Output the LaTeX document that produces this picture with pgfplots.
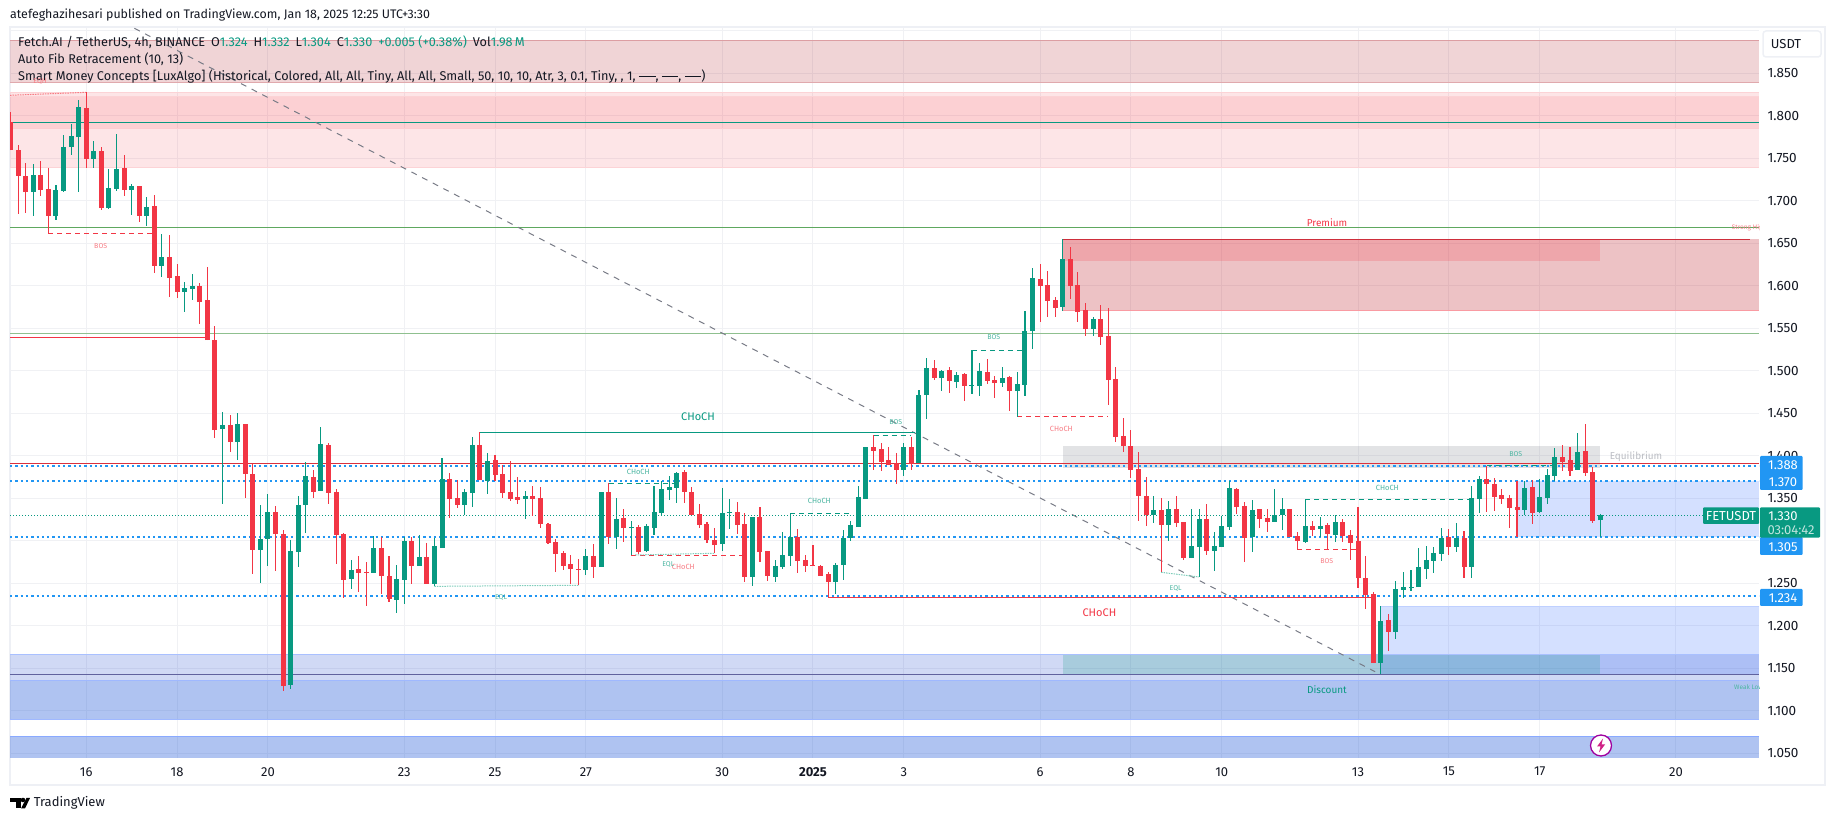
\documentclass[border=0pt]{standalone}
\usepackage{pgfplots}
\usepackage{pgfplotstable}
\pgfplotsset{compat=1.18}
\usepackage{fontspec}
\setmainfont{Fira Sans}

\definecolor{cup}{HTML}{089981}
\definecolor{cdn}{HTML}{F23645}
\definecolor{dkred}{HTML}{B22833}
\definecolor{premz}{RGB}{190,30,40}
\definecolor{tvblue}{HTML}{2962FF}
\definecolor{dotblue}{HTML}{2196F3}
\definecolor{tvgrey}{HTML}{787B86}
\definecolor{gridc}{HTML}{F0F1F4}
\definecolor{framec}{HTML}{EEF0F5}
\definecolor{ink}{HTML}{131722}
\definecolor{palez}{RGB}{20,65,205}
\definecolor{midz}{RGB}{26,84,215}
\definecolor{greenl}{HTML}{5EA85F}
\definecolor{greenp}{HTML}{8FC08F}
\definecolor{eqlc}{HTML}{7FCDBB}
\definecolor{fadeg}{HTML}{4DB6A2}
\definecolor{fader}{HTML}{F77C84}

% k = 4h candle number, 0 is Dec 16 00:00
\pgfplotstableread{
k o h l c
-7 1.7103 1.7433 1.6821 1.7303
-4 1.6821 1.7186 1.6774 1.7127
-3 1.7115 1.7774 1.7103 1.7633
-2 1.7633 1.7903 1.7539 1.7762
-1 1.7750 1.8186 1.7103 1.8103
1 1.7492 1.7703 1.7386 1.7586
3 1.6915 1.7374 1.6903 1.7151
4 1.7139 1.7786 1.7115 1.7374
6 1.7127 1.7197 1.6833 1.7174
8 1.6821 1.7045 1.6703 1.6927
10 1.6233 1.6609 1.6103 1.6339
13 1.5927 1.6045 1.5692 1.5974
14 1.5962 1.6139 1.5833 1.5998
18 1.4315 1.4515 1.3433 1.4362
20 1.4162 1.4503 1.3950 1.4374
23 1.2892 1.3421 1.2504 1.3021
24 1.3021 1.3551 1.2704 1.3339
27 1.1304 1.3008 1.1257 1.2880
28 1.2868 1.3527 1.2692 1.3421
29 1.3421 1.3927 1.3092 1.3763
31 1.3586 1.4339 1.3586 1.4139
35 1.2551 1.2774 1.2433 1.2657
38 1.2621 1.3057 1.2621 1.2915
41 1.2304 1.2715 1.2151 1.2551
42 1.2539 1.3045 1.2257 1.2998
44 1.2704 1.3068 1.2704 1.2810
46 1.2492 1.3033 1.2468 1.2939
47 1.2915 1.3974 1.2915 1.3727
50 1.3421 1.3610 1.3304 1.3574
51 1.3563 1.4221 1.3398 1.4127
53 1.3704 1.4033 1.3551 1.3939
58 1.3492 1.3586 1.3257 1.3527
66 1.2657 1.2904 1.2598 1.2821
68 1.2692 1.3574 1.2692 1.3574
70 1.3045 1.3503 1.2903 1.3256
72 1.3150 1.3233 1.2833 1.3162
74 1.2880 1.3198 1.2868 1.3174
75 1.3150 1.3645 1.3068 1.3339
76 1.3327 1.3703 1.3292 1.3609
77 1.3597 1.3762 1.3480 1.3633
78 1.3621 1.3809 1.3445 1.3797
84 1.2962 1.3621 1.2880 1.3327
85 1.3327 1.3492 1.3139 1.3339
88 1.2574 1.3280 1.2468 1.3280
91 1.2574 1.2774 1.2515 1.2703
92 1.2692 1.3103 1.2668 1.2833
93 1.2821 1.3323 1.2703 1.3045
99 1.2515 1.2739 1.2374 1.2715
100 1.2715 1.3127 1.2539 1.3033
101 1.3033 1.3233 1.2997 1.3186
102 1.3162 1.3645 1.3162 1.3515
103 1.3492 1.4103 1.3492 1.4103
108 1.3833 1.4150 1.3762 1.4103
110 1.3911 1.4774 1.3911 1.4715
111 1.4715 1.5150 1.4433 1.5033
113 1.4915 1.5009 1.4762 1.4997
115 1.4868 1.4985 1.4797 1.4950
117 1.4821 1.5244 1.4727 1.4833
118 1.4821 1.5091 1.4703 1.4997
121 1.4856 1.5044 1.4809 1.4915
123 1.4762 1.4985 1.4460 1.4844
124 1.4833 1.5703 1.4703 1.5468
125 1.5468 1.6209 1.5256 1.6091
129 1.5750 1.6546 1.5703 1.6315
133 1.5491 1.5633 1.5409 1.5609
141 1.3303 1.3527 1.3209 1.3362
143 1.3186 1.3468 1.3000 1.3374
146 1.2797 1.3374 1.2797 1.2939
147 1.2927 1.3374 1.2574 1.3256
149 1.2880 1.3103 1.2645 1.2939
150 1.2927 1.3292 1.2927 1.3174
151 1.3162 1.3703 1.3127 1.3621
154 1.3045 1.3480 1.2868 1.3362
157 1.3221 1.3609 1.3221 1.3303
158 1.3303 1.3503 1.3127 1.3374
161 1.2986 1.3492 1.2974 1.3174
163 1.3139 1.3280 1.3045 1.3174
165 1.3068 1.3303 1.2986 1.3221
171 1.1562 1.2233 1.1433 1.2056
173 1.1927 1.2527 1.1845 1.2433
174 1.2421 1.2633 1.2327 1.2456
175 1.2445 1.2656 1.2409 1.2456
176 1.2456 1.2911 1.2456 1.2692
177 1.2668 1.2939 1.2550 1.2774
178 1.2762 1.2927 1.2621 1.2856
179 1.2845 1.3150 1.2762 1.3033
181 1.2927 1.3209 1.2868 1.3033
183 1.2692 1.3645 1.2562 1.3503
184 1.3492 1.3763 1.3327 1.3727
190 1.3363 1.3704 1.3304 1.3622
192 1.3339 1.3727 1.3327 1.3516
193 1.3504 1.3845 1.3433 1.3775
194 1.3763 1.4092 1.3704 1.3986
197 1.3833 1.4269 1.3833 1.4045
200 1.3240 1.3320 1.3040 1.3300
}\upc

\pgfplotstableread{
k o h l c
-10 1.7926 1.8048 1.7597 1.7597
-9 1.7597 1.7656 1.6845 1.7292
-8 1.7292 1.7445 1.6853 1.7103
-6 1.7303 1.7468 1.7056 1.7127
-5 1.7139 1.7386 1.6617 1.6821
0 1.8092 1.8280 1.7386 1.7492
2 1.7586 1.7633 1.6892 1.6915
5 1.7386 1.7539 1.7056 1.7127
7 1.7174 1.7174 1.6750 1.6821
9 1.6939 1.7068 1.6150 1.6233
11 1.6339 1.6598 1.5868 1.6092
12 1.6115 1.6257 1.5857 1.5927
15 1.5998 1.6033 1.5551 1.5809
16 1.5833 1.6221 1.5362 1.5362
17 1.5362 1.5527 1.4209 1.4303
19 1.4362 1.4480 1.4044 1.4162
21 1.4374 1.4374 1.3503 1.3786
22 1.3786 1.3904 1.2610 1.2892
25 1.3339 1.3410 1.2645 1.3080
26 1.3080 1.3127 1.1233 1.1292
30 1.3751 1.3833 1.3504 1.3574
32 1.4127 1.4151 1.3433 1.3563
33 1.3574 1.3610 1.2727 1.3068
34 1.3080 1.3092 1.2327 1.2539
36 1.2668 1.2821 1.2398 1.2621
37 1.2633 1.2751 1.2233 1.2621
39 1.2915 1.3045 1.2374 1.2586
40 1.2586 1.2821 1.2280 1.2315
43 1.2998 1.3045 1.2492 1.2704
45 1.2810 1.2974 1.2492 1.2492
48 1.3727 1.3798 1.3268 1.3492
49 1.3504 1.3715 1.3386 1.3421
52 1.4127 1.4280 1.3715 1.3715
54 1.3951 1.4010 1.3704 1.3774
55 1.3786 1.3892 1.3504 1.3563
56 1.3574 1.3939 1.3468 1.3492
57 1.3515 1.3751 1.3433 1.3480
59 1.3527 1.3645 1.3292 1.3492
60 1.3504 1.3633 1.3151 1.3198
61 1.3198 1.3210 1.2962 1.2974
62 1.2986 1.3021 1.2633 1.2845
63 1.2857 1.2880 1.2657 1.2704
64 1.2727 1.2833 1.2492 1.2668
65 1.2668 1.2786 1.2480 1.2657
67 1.2821 1.2962 1.2562 1.2692
69 1.3574 1.3676 1.2962 1.3045
71 1.3268 1.3374 1.2986 1.3150
73 1.3162 1.3186 1.2845 1.2868
79 1.3809 1.3833 1.3445 1.3574
80 1.3574 1.3633 1.3303 1.3303
81 1.3315 1.3433 1.3150 1.3186
82 1.3198 1.3221 1.2974 1.3009
83 1.3009 1.3150 1.2856 1.2950
86 1.3339 1.3456 1.3080 1.3186
87 1.3198 1.3327 1.2515 1.2574
89 1.3280 1.3397 1.2750 1.2868
90 1.2880 1.2880 1.2527 1.2586
94 1.3045 1.3139 1.2621 1.2762
95 1.2774 1.2833 1.2633 1.2703
96 1.2715 1.2950 1.2703 1.2703
97 1.2703 1.2715 1.2586 1.2586
98 1.2609 1.2633 1.2339 1.2515
104 1.4103 1.4245 1.3833 1.4056
105 1.4080 1.4150 1.3821 1.3927
106 1.3950 1.4103 1.3892 1.3892
107 1.3915 1.4033 1.3668 1.3833
109 1.4103 1.4221 1.3833 1.3903
112 1.5033 1.5127 1.4891 1.4915
114 1.5009 1.5044 1.4738 1.4880
116 1.4962 1.4974 1.4644 1.4821
119 1.4985 1.5138 1.4844 1.4880
120 1.4891 1.4938 1.4680 1.4856
122 1.4927 1.4938 1.4527 1.4762
126 1.6080 1.6256 1.5574 1.5997
127 1.6009 1.6174 1.5633 1.5821
128 1.5833 1.5868 1.5633 1.5738
130 1.6315 1.6456 1.5844 1.5997
131 1.6009 1.6162 1.5574 1.5691
132 1.5715 1.5797 1.5409 1.5491
134 1.5609 1.5774 1.5303 1.5397
135 1.5409 1.5738 1.4597 1.4891
136 1.4903 1.5044 1.4162 1.4221
137 1.4233 1.4444 1.4044 1.4115
138 1.4115 1.4303 1.3738 1.3833
139 1.3845 1.4045 1.3233 1.3527
140 1.3527 1.3750 1.3174 1.3303
142 1.3362 1.3503 1.2633 1.3186
144 1.3374 1.3527 1.3162 1.3209
145 1.3221 1.3221 1.2774 1.2797
148 1.3256 1.3433 1.2833 1.2880
152 1.3609 1.3621 1.3315 1.3397
153 1.3409 1.3456 1.2750 1.3033
155 1.3374 1.3374 1.3150 1.3256
156 1.3268 1.3374 1.3103 1.3221
159 1.3374 1.3374 1.3045 1.3045
160 1.3056 1.3103 1.2899 1.2997
162 1.3174 1.3233 1.3056 1.3127
164 1.3186 1.3209 1.2903 1.3080
166 1.3221 1.3256 1.2986 1.3056
167 1.3068 1.3127 1.2774 1.2974
168 1.3000 1.3397 1.2445 1.2562
169 1.2562 1.2821 1.2197 1.2362
170 1.2374 1.2397 1.1562 1.1562
172 1.2068 1.2139 1.1703 1.1927
180 1.3045 1.3139 1.2833 1.2927
182 1.3033 1.3115 1.2562 1.2692
185 1.3727 1.3880 1.3339 1.3669
186 1.3669 1.3739 1.3351 1.3516
187 1.3539 1.3610 1.3433 1.3492
188 1.3504 1.3539 1.3151 1.3386
189 1.3398 1.3704 1.3045 1.3363
191 1.3633 1.3716 1.3198 1.3327
195 1.3986 1.4127 1.3822 1.3927
196 1.3951 1.4104 1.3763 1.3822
198 1.4057 1.4374 1.3763 1.3798
199 1.3810 1.3869 1.3210 1.3233
}\dnc

\def\xL{-10.07}
\def\xR{220.97}
% x1 x2 ytop ybottom colour opacity
\newcommand{\zone}[6]{\addplot[fill=#5,fill opacity=#6,draw=none] coordinates {(#1,#3)(#2,#3)(#2,#4)(#1,#4)} -- cycle;}
% style x1 x2 y
\newcommand{\hl}[4]{\addplot[#1] coordinates {(#2,#4)(#3,#4)};}
\tikzset{dsh/.style={line width=1pt,dash pattern=on 5pt off 4pt},
    bdot/.style={dotblue,line width=2pt,dash pattern=on 2.3pt off 3pt}}
\newcommand{\fs}[1]{\fontsize{#1}{#1}\selectfont}
\newcommand{\lab}[5]{\node[text=#4,inner sep=0pt,font=\fs{#3}] at (#1,#2) {#5};}
\newcommand{\sw}{\rule[0.22em]{1.3em}{0.07em}}

\begin{document}
\begin{tikzpicture}
\path[use as bounding box] (0,0) rectangle (1835pt,821pt);
\begin{scope}[x=1pt,y=-1pt,yshift=821pt]
\draw[framec,line width=2pt] (10,27.5) rectangle (1825,785);
\node[anchor=west,inner sep=0pt,text=ink,font=\fs{12.4}] at (10,14.7) {atefeghazihesari published on TradingView.com, Jan 18, 2025 12:25 UTC+3:30};
\end{scope}

\begin{axis}[
    at={(10pt,63.3pt)}, anchor=south west,
    scale only axis, width=1749pt, height=729.7pt,
    xmin=\xL, xmax=\xR, ymin=1.0448, ymax=1.9033,
    axis line style={draw=none},
    major tick length=0pt,
    no markers,
    grid=major,
    grid style={gridc,line width=1pt},
    xtick={0,12,24,42,54,66,84,96,108,126,138,150,168,180,192,210},
    xticklabels={16,18,20,23,25,27,30,\textbf{2025},3,6,8,10,13,15,17,20},
    ytick={1.05,1.10,1.15,1.20,1.25,1.30,1.35,1.40,1.45,1.50,1.55,1.60,1.65,1.70,1.75,1.80,1.85},
    extra y ticks={1.90}, extra y tick labels={},
    extra tick style={grid=major},
    yticklabel pos=right,
    yticklabel style={/pgf/number format/fixed,/pgf/number format/zerofill,/pgf/number format/precision=3,/pgf/number format/assume math mode=true,
        font=\fs{13.5},text=ink,anchor=west,xshift=5pt},
    xticklabel style={font=\fs{13},text=ink,yshift=-6pt},
]
% supply and demand zones
\zone{\xL}{\xR}{1.8887}{1.8393}{dkred}{0.2}
\hl{dkred!45,line width=1pt}{\xL}{\xR}{1.8887}
\hl{dkred!40,line width=1pt}{\xL}{\xR}{1.8393}
\zone{\xL}{\xR}{1.8276}{1.7389}{cdn}{0.13}
\zone{\xL}{\xR}{1.8229}{1.7852}{cdn}{0.12}
\hl{cdn!22,line width=1pt}{\xL}{\xR}{1.8276}
\hl{cdn!22,line width=1pt}{\xL}{\xR}{1.8229}
\hl{cdn!25,line width=1pt}{\xL}{\xR}{1.7852}
\hl{cdn!22,line width=1pt}{\xL}{\xR}{1.7389}

\zone{129}{\xR}{1.6546}{1.5707}{premz}{0.27}
\zone{129}{200}{1.6546}{1.6295}{cdn}{0.2}
\hl{cdn!85!black,line width=1.2pt}{129}{219.8}{1.6546}
\hl{cdn!50,line width=1pt}{129}{\xR}{1.5707}

\zone{129}{200}{1.4115}{1.3860}{tvgrey}{0.215}

\zone{189}{\xR}{1.3703}{1.3045}{tvblue}{0.2}
\zone{171}{\xR}{1.2229}{1.1433}{tvblue}{0.2}
\hl{tvblue!30,line width=1pt}{171}{\xR}{1.2229}

\zone{\xL}{\xR}{1.1664}{1.1362}{palez}{0.2}
\zone{\xL}{\xR}{1.1362}{1.0899}{midz}{0.35}
\zone{\xL}{\xR}{1.0699}{1.0448}{midz}{0.35}
\zone{129}{200}{1.1670}{1.1433}{cup}{0.2}
\hl{tvblue!40,line width=1pt}{\xL}{\xR}{1.1664}
\hl{tvblue!45,line width=1pt}{\xL}{\xR}{1.1362}
\hl{tvblue!45,line width=1.5pt}{\xL}{\xR}{1.0899}
\hl{tvblue!55,line width=1pt}{\xL}{\xR}{1.0699}
\hl{tvgrey!80!blue,line width=1pt}{\xL}{\xR}{1.1429}

% fib levels and long structure lines
\hl{greenl,line width=1pt}{\xL}{\xR}{1.6684}
\hl{greenp,line width=1pt}{\xL}{\xR}{1.5441}
\hl{cup,line width=1.1pt}{\xL}{\xR}{1.7919}
\hl{cdn,line width=1pt}{\xL}{16}{1.5393}
\hl{cdn!90!black,line width=1.1pt}{\xL}{\xR}{1.3911}

\addplot[tvgrey,line width=1pt,dash pattern=on 6pt off 6pt] coordinates {(6.37,1.9029)(170.25,1.1460)};

\hl{bdot}{\xL}{\xR}{1.3884}
\hl{bdot}{\xL}{\xR}{1.3703}
\hl{bdot}{\xL}{\xR}{1.3050}
\hl{bdot}{\xL}{\xR}{1.2345}
\hl{cup,line width=1pt,dash pattern=on 1pt off 2pt}{\xL}{213.5}{1.3299}

\hl{cup,line width=1.3pt}{52}{109.5}{1.4272}
\hl{cdn,line width=1.3pt}{98}{170}{1.2335}
\hl{cup,dsh}{69}{78.5}{1.3676}
\hl{cup,dsh}{93}{101}{1.3323}
\hl{cup,dsh}{104}{109}{1.4241}
\hl{cup,dsh}{117}{124}{1.5240}
\hl{cup,dsh}{161}{183}{1.3488}
\hl{cup,dsh}{185}{194}{1.3880}
\hl{cdn,dsh}{-5}{9}{1.6617}
\hl{cdn,dsh}{72}{87}{1.2829}
\hl{cdn,dsh}{123}{135}{1.4464}
\hl{cdn,dsh}{160}{168}{1.2899}

\addplot[fader,line width=1pt,dash pattern=on 1.5pt off 1pt] coordinates {(-10.07,1.8241)(0,1.8276)};
\addplot[eqlc,line width=1pt,dash pattern=on 1.5pt off 1pt] coordinates {(46,1.2464)(65,1.2476)};
\addplot[eqlc,line width=1pt,dash pattern=on 1.5pt off 1pt] coordinates {(72.5,1.2833)(83,1.2853)};
\addplot[eqlc,line width=1pt,dash pattern=on 1.5pt off 1pt] coordinates {(142,1.2629)(147,1.2574)};

% candles: wick then body
\addplot[draw=none,error bars/.cd,y dir=both,y explicit,error mark=none,error bar style={cup,line width=1.1pt}]
    table[x=k,y=o,y error plus expr=\thisrow{h}-\thisrow{o},y error minus expr=\thisrow{o}-\thisrow{l}] {\upc};
\addplot[draw=none,error bars/.cd,y dir=plus,y explicit,error mark=none,error bar style={cup,line width=5pt}]
    table[x=k,y=o,y error plus expr=\thisrow{c}-\thisrow{o}] {\upc};
\addplot[draw=none,error bars/.cd,y dir=both,y explicit,error mark=none,error bar style={cdn,line width=1.1pt}]
    table[x=k,y=c,y error plus expr=\thisrow{h}-\thisrow{c},y error minus expr=\thisrow{c}-\thisrow{l}] {\dnc};
\addplot[draw=none,error bars/.cd,y dir=plus,y explicit,error mark=none,error bar style={cdn,line width=5pt}]
    table[x=k,y=c,y error plus expr=\thisrow{o}-\thisrow{c}] {\dnc};
\end{axis}

\begin{scope}[x=1pt,y=-1pt,yshift=821pt]
% legend lines
\node[anchor=west,inner sep=0pt,text=ink,font=\fs{12.7}] at (18,42) {Fetch.AI / TetherUS, 4h, BINANCE\hspace{6pt}O\textcolor{cup}{1.324}\hspace{6pt}H\textcolor{cup}{1.332}\hspace{6pt}L\textcolor{cup}{1.304}\hspace{6pt}C\textcolor{cup}{1.330}\hspace{6pt}\textcolor{cup}{+0.005 (+0.38\%)}\hspace{6pt}Vol\textcolor{cup}{1.98\,M}};
\node[anchor=west,inner sep=0pt,text=ink,font=\fs{12.7}] at (18,59) {Auto Fib Retracement (10, 13)};
\node[anchor=west,inner sep=0pt,text=ink,font=\fs{12.7}] at (18,76) {Smart Money Concepts [LuxAlgo] (Historical, Colored, All, All, Tiny, All, All, Small, 50, 10, 10, Atr, 3, 0.1, Tiny, , 1, \sw, \sw, \sw)};

% structure labels
\lab{698}{416.7}{11}{cup}{CHoCH}
\lab{1099.4}{612.7}{11}{cdn}{CHoCH}
\lab{1327}{222.4}{10}{cdn}{Premium}
\lab{1327}{690}{10}{cup}{Discount}
\lab{1636}{456.7}{10}{tvgrey!50}{Equilibrium}
\lab{100.7}{245.7}{7}{fader}{BOS}
\lab{40}{81}{7}{fader}{EQH}
\lab{895.7}{422.5}{7}{fadeg}{BOS}
\lab{993.7}{337.3}{7}{fadeg}{BOS}
\lab{1515.7}{454.3}{7}{fadeg}{BOS}
\lab{1326.7}{561.3}{7}{fader}{BOS}
\lab{638.3}{471.7}{7.5}{fadeg}{CHoCH}
\lab{819.3}{500.7}{7.5}{fadeg}{CHoCH}
\lab{1387.3}{487.7}{7.5}{fadeg}{CHoCH}
\lab{683.3}{567.3}{7.5}{fader}{CHoCH}
\lab{1061.3}{428.7}{7.5}{fader}{CHoCH}
\lab{668.3}{564.3}{7}{fadeg}{EQL}
\lab{501}{597.7}{7}{fadeg}{EQL}
\lab{1175.7}{588.3}{7}{fadeg}{EQL}
\begin{scope}
\clip (10,28) rectangle (1759,758);
\node[anchor=west,inner sep=0pt,text=fader,font=\fs{6.5}] at (1731.7,227.7) {Strong High};
\node[anchor=west,inner sep=0pt,text=fadeg,font=\fs{6.5}] at (1734,687) {Weak Low};
\end{scope}

% price scale badges
\draw[framec,line width=1.5pt,rounded corners=3pt,fill=white] (1763,31) rectangle (1821,57);
\lab{1786}{44}{13}{ink}{USDT}
\fill[dotblue,rounded corners=1pt] (1760,456) rectangle (1802.7,490);
\fill[dotblue,rounded corners=1pt] (1760,537) rectangle (1802.7,555);
\fill[dotblue,rounded corners=1pt] (1760,589) rectangle (1802.7,606);
\fill[cup,rounded corners=1pt] (1760,507.3) rectangle (1820,537.7);
\fill[cup,rounded corners=1pt] (1703,507.3) rectangle (1759,524);
\lab{1783}{464.7}{13}{white}{1.388}
\lab{1783}{481.7}{13}{white}{1.370}
\lab{1783}{515.7}{13}{white}{1.330}
\lab{1791}{530}{13}{white!75!cup}{03:04:42}
\lab{1783}{546.7}{13}{white}{1.305}
\lab{1783}{597.7}{13}{white}{1.234}
\lab{1731}{515.7}{13}{white}{FETUSDT}

% lightning button
\draw[fill=white,draw=violet!75!magenta,line width=1.3pt] (1601,745.5) circle (10.5);
\fill[magenta!70!violet] (1603,738.5) -- (1597,746.5) -- (1600.5,746.5) -- (1599,752.5) -- (1605,744.5) -- (1601.5,744.5) -- cycle;

% footer logo
\fill[black] (10,798) rectangle (20.5,802.5);
\fill[black] (15.5,798) rectangle (20.5,808.5);
\fill[black] (23,800) circle (2.3);
\fill[black] (25,808.5) -- (30,798) -- (26.5,798) -- (21,808.5) -- cycle;
\node[anchor=west,inner sep=0pt,text=ink,font=\fs{13}] at (33.6,803) {TradingView};
\end{scope}
\end{tikzpicture}
\end{document}
